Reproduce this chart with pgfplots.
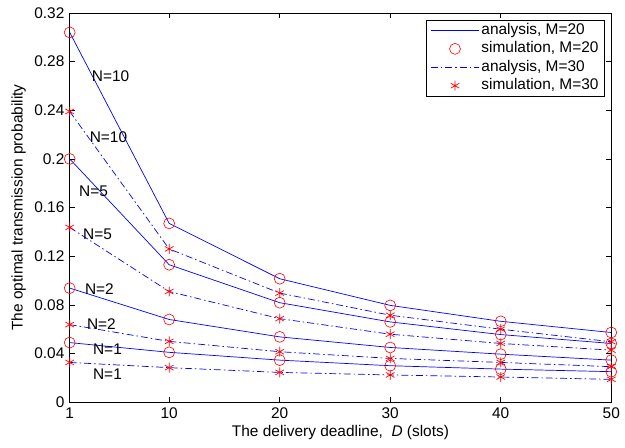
\documentclass[border=0pt]{standalone}
\usepackage{pgfplots}
\pgfplotsset{compat=1.18}
\usepackage{fontspec}
\setmainfont{Liberation Sans}
\begin{document}
\fontsize{15.5}{18}\selectfont
\begin{tikzpicture}
\pgfplotstableread{
x n10 n5 n2 n1
1 0.304 0.200 0.0938 0.049
10 0.147 0.113 0.068 0.041
20 0.1015 0.0818 0.0537 0.0346
30 0.0796 0.066 0.045 0.030
40 0.0665 0.0556 0.0395 0.0272
50 0.0573 0.0483 0.0346 0.0251
}\mtwenty
\pgfplotstableread{
x n10 n5 n2 n1
1 0.239 0.1437 0.0638 0.0327
10 0.126 0.091 0.050 0.0284
20 0.0897 0.0687 0.0415 0.0245
30 0.0715 0.0559 0.036 0.0224
40 0.060 0.0483 0.0327 0.0207
50 0.0497 0.0428 0.0292 0.0188
}\mthirty
\begin{axis}[
  width=544pt, height=391pt, scale only axis,
  xmin=1, xmax=50, ymin=0, ymax=0.32,
  xtick={1,10,20,30,40,50},
  ytick={0,0.04,...,0.33},
  yticklabel style={/pgf/number format/fixed,/pgf/number format/precision=2},
  /pgf/number format/assume math mode=true,
  tick align=inside, tick pos=both,
  major tick length=5pt,
  axis line style={black, line width=0.8pt},
  tick style={black, line width=0.6pt},
  xlabel={The delivery deadline,\ \ \textit{D} (slots)},
  ylabel={The optimal transmission probability},
  ylabel style={yshift=-2pt},
  xlabel style={yshift=4pt},
  legend style={at={(0.988,0.982)}, anchor=north east, draw=black, line width=0.6pt,
    font=\fontsize{15.5}{17}\selectfont, row sep=2pt, inner xsep=4pt, inner ysep=2pt,
    nodes={inner ysep=1pt, text height=11pt, text depth=3.5pt}},
  legend cell align=left,
  legend image code/.code={
    \draw[mark repeat=2,mark phase=2,#1] plot coordinates {(0cm,0cm) (0.85cm,0cm) (1.7cm,0cm)};
  },
]
\pgfplotsset{
  an20/.style={blue, line width=0.7pt, no markers},
  si20/.style={red, only marks, mark=o, mark size=5.5pt, line width=0.6pt},
  an30/.style={blue, line width=0.7pt, no markers, dash pattern=on 7pt off 3pt on 1.5pt off 3pt},
  si30/.style={red, only marks, mark=asterisk, mark size=5pt, line width=0.7pt},
}
\addplot[an20] table[x=x,y=n10] {\mtwenty};
\addlegendentry{analysis, M=20}
\addplot[si20] table[x=x,y=n10] {\mtwenty};
\addlegendentry{simulation, M=20}
\addplot[an30] table[x=x,y=n10] {\mthirty};
\addlegendentry{analysis, M=30}
\addplot[si30] table[x=x,y=n10] {\mthirty};
\addlegendentry{simulation, M=30}
\addplot[an20, forget plot] table[x=x,y=n5] {\mtwenty};
\addplot[an20, forget plot] table[x=x,y=n2] {\mtwenty};
\addplot[an20, forget plot] table[x=x,y=n1] {\mtwenty};
\addplot[si20, forget plot] table[x=x,y=n5] {\mtwenty};
\addplot[si20, forget plot] table[x=x,y=n2] {\mtwenty};
\addplot[si20, forget plot] table[x=x,y=n1] {\mtwenty};
\addplot[an30, forget plot] table[x=x,y=n5] {\mthirty};
\addplot[an30, forget plot] table[x=x,y=n2] {\mthirty};
\addplot[an30, forget plot] table[x=x,y=n1] {\mthirty};
\addplot[si30, forget plot] table[x=x,y=n5] {\mthirty};
\addplot[si30, forget plot] table[x=x,y=n2] {\mthirty};
\addplot[si30, forget plot] table[x=x,y=n1] {\mthirty};
\node[anchor=west, inner sep=0pt] at (axis cs:3.0,0.268) {N=10};
\node[anchor=west, inner sep=0pt] at (axis cs:2.8,0.2177) {N=10};
\node[anchor=west, inner sep=0pt] at (axis cs:1.84,0.173) {N=5};
\node[anchor=west, inner sep=0pt] at (axis cs:2.2,0.138) {N=5};
\node[anchor=west, inner sep=0pt] at (axis cs:2.37,0.0927) {N=2};
\node[anchor=west, inner sep=0pt] at (axis cs:2.55,0.0646) {N=2};
\node[anchor=west, inner sep=0pt] at (axis cs:3.1,0.0436) {N=1};
\node[anchor=west, inner sep=0pt] at (axis cs:3.1,0.0229) {N=1};
\end{axis}
\path ([xshift=-70pt,yshift=-45pt]current axis.south west) rectangle ([xshift=10pt,yshift=13pt]current axis.north east);
\end{tikzpicture}
\end{document}
